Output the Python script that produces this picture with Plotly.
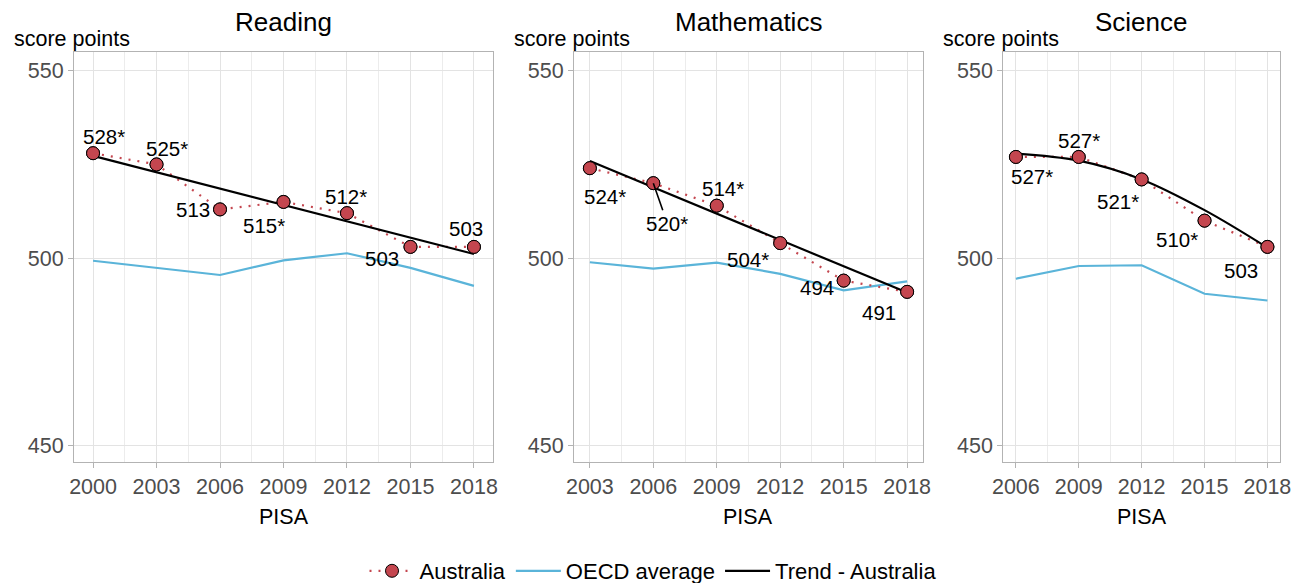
import plotly.graph_objects as go

W, H = 1306, 583

# ---------------- data ----------------
subjects = ["Reading", "Mathematics", "Science"]

reading_years = [2000, 2003, 2006, 2009, 2012, 2015, 2018]
reading_aus = [528, 525, 513, 515, 512, 503, 503]
reading_labels = ["528*", "525*", "513", "515*", "512*", "503", "503"]
reading_oecd = [499.3, 497.4, 495.5, 499.4, 501.3, 497.4, 492.6]
reading_trend = [527.3, 522.9, 518.5, 514.2, 509.8, 505.5, 501.1]

math_years = [2003, 2006, 2009, 2012, 2015, 2018]
math_aus = [524, 520, 514, 504, 494, 491]
math_labels = ["524*", "520*", "514*", "504*", "494", "491"]
math_oecd = [498.9, 497.2, 498.8, 495.8, 491.4, 493.8]
math_trend = [525.9, 518.9, 511.9, 504.9, 497.9, 490.8]

sci_years = [2006, 2009, 2012, 2015, 2018]
sci_aus = [527, 527, 521, 510, 503]
sci_labels = ["527*", "527*", "521*", "510*", "503"]
sci_oecd = [494.5, 497.9, 498.1, 490.5, 488.7]
sci_trend = [527.9, 526.0, 521.0, 512.8, 502.8]

# ---------------- styling / layout ----------------
FONT = "Liberation Sans, Arial, sans-serif"
RED = "#c4464f"
BLUE = "#5ab4d9"
GRID = "#e3e3e3"
MINOR = "#ececec"
BORDER = "#b3b3b3"

# panel pixel extents (left, right)
panels_px = [(74, 493), (574, 923), (1003.3, 1280)]
top_px, bot_px = 52, 462
yrange = [445.6, 555]

# label offsets in pixels (dx right, dy up)
reading_off = [(11, 17), (10, 16), (-27, 0), (-20, -24), (-1, 17), (-28, -12), (-8, 18)]
math_off = [(15, -28), (14, -40), (6, 17), (-32, -16), (-27, -7), (-28, -21)]
sci_off = [(16, -20), (0, 16), (-24, -22), (-28, -19), (-26, -24)]

datasets = [
    (reading_years, reading_aus, reading_labels, reading_oecd, reading_trend, reading_off),
    (math_years, math_aus, math_labels, math_oecd, math_trend, math_off),
    (sci_years, sci_aus, sci_labels, sci_oecd, sci_trend, sci_off),
]

fig = go.Figure()
annotations = []
layout = {}

for i, (years, aus, labels, oecd, trend, offs) in enumerate(datasets):
    n = i + 1
    xa = "x" if n == 1 else f"x{n}"
    ya = "y" if n == 1 else f"y{n}"
    first = (i == 0)

    fig.add_trace(go.Scatter(
        x=years, y=oecd, mode="lines", name="OECD average",
        line=dict(color=BLUE, width=2.2), xaxis=xa, yaxis=ya,
        legendgroup="oecd", showlegend=first, legendrank=2))
    fig.add_trace(go.Scatter(
        x=years, y=aus, mode="lines+markers", name="Australia",
        line=dict(color=RED, width=2.2, dash="2px,7px"),
        marker=dict(size=13, color=RED, line=dict(color="black", width=1)),
        xaxis=xa, yaxis=ya, legendgroup="aus", showlegend=first, legendrank=1))
    fig.add_trace(go.Scatter(
        x=years, y=trend, mode="lines", name="Trend - Australia",
        line=dict(color="black", width=2.2, shape="spline" if i == 2 else "linear"),
        xaxis=xa, yaxis=ya, legendgroup="trend", showlegend=first, legendrank=3))
    # redraw markers on top of trend line
    fig.add_trace(go.Scatter(
        x=years, y=aus, mode="markers", name="Australia",
        marker=dict(size=13, color=RED, line=dict(color="black", width=1)),
        xaxis=xa, yaxis=ya, showlegend=False, hoverinfo="skip"))

    # data labels
    for x, y, t, (dx, dy) in zip(years, aus, labels, offs):
        if i == 1 and t == "520*":
            annotations.append(dict(
                x=x, y=y, xref=xa, yref=ya, text=t, showarrow=True,
                ax=dx, ay=-dy, arrowhead=0, arrowwidth=1.6, arrowcolor="black",
                standoff=0, font=dict(family=FONT, size=20.5, color="black")))
        else:
            annotations.append(dict(
                x=x, y=y, xref=xa, yref=ya, text=t, showarrow=False,
                xshift=dx, yshift=dy,
                font=dict(family=FONT, size=20.5, color="black")))

    lpx, rpx = panels_px[i]
    span = years[-1] - years[0]
    exp = span * 0.05
    layout["xaxis" if n == 1 else f"xaxis{n}"] = dict(
        domain=[lpx / W, rpx / W], anchor=ya,
        range=[years[0] - exp, years[-1] + exp],
        tickmode="array", tickvals=years, ticktext=[str(v) for v in years],
        tickfont=dict(family=FONT, size=21.5, color="#4d4d4d"),
        ticks="outside", ticklen=5, tickcolor=BORDER,
        showgrid=True, gridcolor=GRID, gridwidth=1,
        minor=dict(tickmode="linear", tick0=years[0], dtick=1.5,
                   showgrid=True, gridcolor=MINOR, gridwidth=1, ticks=""),
        showline=True, linecolor=BORDER, linewidth=1.2, mirror=True,
        zeroline=False, fixedrange=True)
    layout["yaxis" if n == 1 else f"yaxis{n}"] = dict(
        domain=[1 - bot_px / H, 1 - top_px / H], anchor=xa,
        range=yrange, tickmode="array", tickvals=[450, 500, 550],
        tickfont=dict(family=FONT, size=21.5, color="#4d4d4d"),
        ticks="outside", ticklen=5, tickcolor=BORDER,
        showgrid=True, gridcolor=GRID, gridwidth=1,
        showline=True, linecolor=BORDER, linewidth=1.2, mirror=True,
        zeroline=False, fixedrange=True)

    # panel title, y-axis title, x-axis title
    cx = (lpx + rpx) / 2 / W
    annotations.append(dict(
        x=cx, y=1 - 22 / H, xref="paper", yref="paper", text=subjects[i],
        showarrow=False, xanchor="center", yanchor="middle",
        font=dict(family=FONT, size=26, color="black")))
    annotations.append(dict(
        x=(lpx - 62) / W, y=1 - 39 / H, xref="paper", yref="paper",
        text="score points", showarrow=False, xanchor="left", yanchor="middle",
        font=dict(family=FONT, size=21.5, color="black")))
    annotations.append(dict(
        x=cx, y=1 - 517 / H, xref="paper", yref="paper", text="PISA",
        showarrow=False, xanchor="center", yanchor="middle",
        font=dict(family=FONT, size=21.5, color="black")))

fig.update_layout(
    width=W, height=H,
    margin=dict(l=0, r=0, t=0, b=0, autoexpand=False),
    paper_bgcolor="white", plot_bgcolor="white",
    annotations=annotations,
    showlegend=True,
    legend=dict(orientation="h", x=0.5, xanchor="center",
                y=1 - 571 / H, yanchor="middle",
                font=dict(family=FONT, size=22, color="black"),
                traceorder="normal", itemwidth=45,
                bgcolor="rgba(0,0,0,0)"),
    font=dict(family=FONT),
    **layout)

fig.write_html(
    "out.html",
    config={"displayModeBar": False},
    post_script="document.body.style.margin='0';document.body.style.overflow='hidden';")
